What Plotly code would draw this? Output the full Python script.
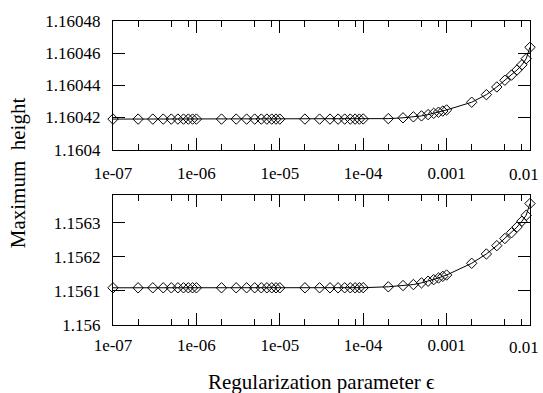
import plotly.graph_objects as go

# Regularization parameter values (x)
eps = [1e-7,
       2e-7, 3e-7, 4e-7, 5e-7, 6e-7, 7e-7, 8e-7, 9e-7, 1e-6,
       2e-6, 3e-6, 4e-6, 5e-6, 6e-6, 7e-6, 8e-6, 9e-6, 1e-5,
       2e-5, 3e-5, 4e-5, 5e-5, 6e-5, 7e-5, 8e-5, 9e-5, 1e-4,
       2e-4, 3e-4, 4e-4, 5e-4, 6e-4, 7e-4, 8e-4, 9e-4, 1e-3,
       2e-3, 3e-3, 4e-3, 5e-3, 6e-3, 7e-3, 8e-3, 9e-3, 1e-2]

# Maximum height, upper panel
height_top = [1.160419,
              1.160419, 1.160419, 1.160419, 1.160419, 1.160419, 1.160419, 1.160419, 1.160419, 1.160419,
              1.160419, 1.160419, 1.160419, 1.160419, 1.160419, 1.160419, 1.160419, 1.160419, 1.160419,
              1.160419, 1.160419, 1.160419, 1.160419, 1.160419, 1.160419, 1.160419, 1.160419, 1.1604191,
              1.1604193, 1.1604198, 1.1604204, 1.1604210, 1.1604218, 1.1604226, 1.1604233, 1.1604240, 1.1604247,
              1.1604295, 1.1604342, 1.1604390, 1.1604432, 1.1604464, 1.1604496, 1.1604528, 1.1604566, 1.1604637]

# Maximum height, lower panel
height_bottom = [1.1561092,
                 1.1561092, 1.1561092, 1.1561092, 1.1561092, 1.1561092, 1.1561092, 1.1561092, 1.1561092, 1.1561092,
                 1.1561092, 1.1561092, 1.1561092, 1.1561092, 1.1561092, 1.1561092, 1.1561092, 1.1561092, 1.1561092,
                 1.1561092, 1.1561092, 1.1561092, 1.1561092, 1.1561092, 1.1561092, 1.1561092, 1.1561092, 1.1561095,
                 1.1561121, 1.1561158, 1.1561187, 1.1561236, 1.1561285, 1.1561331, 1.1561380, 1.1561428, 1.1561466,
                 1.1561811, 1.1562084, 1.1562328, 1.1562538, 1.1562707, 1.1562874, 1.1563046, 1.1563219, 1.1563564]

x_tickvals = [1e-7, 1e-6, 1e-5, 1e-4, 1e-3, 1e-2]
x_ticktext = ["1e-07", "1e-06", "1e-05", "1e-04", "0.001", "0.01"]
x_minorvals = [2e-7, 5e-7, 8e-7, 2e-6, 5e-6, 8e-6, 2e-5, 5e-5, 8e-5,
               2e-4, 5e-4, 8e-4, 2e-3, 5e-3, 8e-3]

top_tickvals = [1.1604, 1.16042, 1.16044, 1.16046, 1.16048]
top_ticktext = ["1.1604", "1.16042", "1.16044", "1.16046", "1.16048"]
bottom_tickvals = [1.156, 1.1561, 1.1562, 1.1563]
bottom_ticktext = ["1.156", "1.1561", "1.1562", "1.1563"]

FONT = "Liberation Serif"

W, H = 543, 393
ML, MR, MT, MB = 113, 12, 15, 68
PW = W - ML - MR
PH = H - MT - MB
STAND_TOP, STAND_BOT = 8, 5

marker = dict(symbol="diamond-open", size=8, color="black", line=dict(width=1, color="black"))
line = dict(color="black", width=1)

fig = go.Figure()
fig.add_trace(go.Scatter(x=eps, y=height_top, mode="lines+markers", marker=marker, line=line,
                         xaxis="x", yaxis="y", cliponaxis=False, showlegend=False))
fig.add_trace(go.Scatter(x=eps, y=height_bottom, mode="lines+markers", marker=marker, line=line,
                         xaxis="x2", yaxis="y2", cliponaxis=False, showlegend=False))

# the last label sits at the page edge (cut in the original); drawn as an edge-anchored text instead
axis_ticktext = x_ticktext[:-1] + [""]

xcommon = dict(type="log", range=[-7.0001, -1.9999], tickmode="array", tickvals=x_tickvals, ticktext=axis_ticktext,
               ticks="inside", ticklen=12, tickwidth=1, tickcolor="black",
               showline=True, linecolor="black", linewidth=1, mirror="ticks",
               showgrid=False, zeroline=False,
               minor=dict(tickmode="array", tickvals=x_minorvals, ticks="inside", ticklen=6,
                          tickwidth=1, tickcolor="black", showgrid=False),
               tickfont=dict(family=FONT, size=17, color="black"))
ycommon = dict(ticks="inside", ticklen=12, tickwidth=1, tickcolor="black",
               showline=True, linecolor="black", linewidth=1, mirror="ticks",
               showgrid=False, zeroline=False, ticklabelstandoff=8, tickmode="array",
               tickfont=dict(family=FONT, size=17, color="black"))

edge_x = (542 - ML) / PW

fig.update_layout(
    width=W, height=H,
    margin=dict(l=ML, r=MR, t=MT, b=MB),
    paper_bgcolor="white", plot_bgcolor="white",
    xaxis=dict(domain=[0, 1], anchor="y", ticklabelstandoff=STAND_TOP, **xcommon),
    yaxis=dict(domain=[0.577, 1], anchor="x", range=[1.1604, 1.1604801],
               tickvals=top_tickvals, ticktext=top_ticktext, **ycommon),
    xaxis2=dict(domain=[0, 1], anchor="y2", ticklabelstandoff=STAND_BOT, **xcommon),
    yaxis2=dict(domain=[0, 0.426], anchor="x2", range=[1.156, 1.15638],
                tickvals=bottom_tickvals, ticktext=bottom_ticktext, **ycommon),
    annotations=[
        dict(text="Maximum\u00a0 height", textangle=-90, xref="paper", yref="paper",
             x=(18 - ML) / PW, y=0.5, xanchor="center", yanchor="middle",
             showarrow=False, font=dict(family=FONT, size=21, color="black")),
        dict(text="Regularization parameter \u03f5", xref="paper", yref="paper",
             x=0.5, y=-58 / PH, xanchor="center", yanchor="middle",
             showarrow=False, font=dict(family=FONT, size=21, color="black")),
        dict(text=x_ticktext[-1], xref="paper", yref="y domain", x=edge_x, y=0,
             xanchor="right", yanchor="middle", yshift=-(3 + STAND_TOP + 14),
             showarrow=False, font=dict(family=FONT, size=17, color="black")),
        dict(text=x_ticktext[-1], xref="paper", yref="y2 domain", x=edge_x, y=0,
             xanchor="right", yanchor="middle", yshift=-(3 + STAND_BOT + 14),
             showarrow=False, font=dict(family=FONT, size=17, color="black")),
    ],
)

post = ("document.documentElement.style.margin='0';document.documentElement.style.overflow='hidden';"
        "document.body.style.margin='0';document.body.style.overflow='hidden';"
        "var gd=document.getElementById('{plot_id}');gd.style.overflow='hidden';")
fig.write_html("out.html", post_script=post, config={"displayModeBar": False})
